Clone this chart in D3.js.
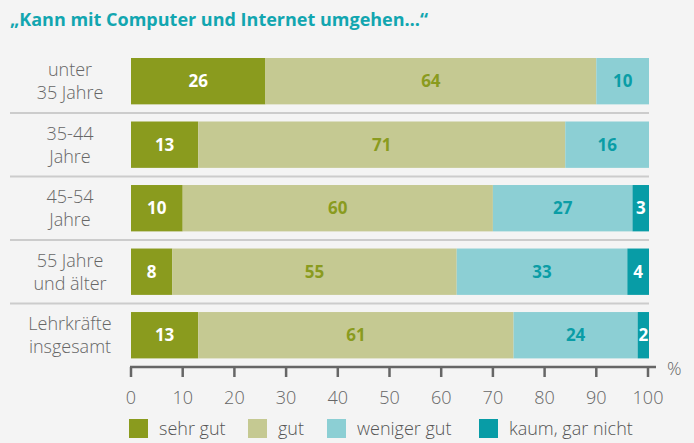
<!DOCTYPE html>
<html>
<head>
<meta charset="utf-8">
<script src="https://cdn.jsdelivr.net/npm/d3@7"></script>
<style>
  body { margin: 0; background: #f4f4f4; }
  svg { display: block; font-family: "Open Sans", sans-serif; }
</style>
</head>
<body>
<svg width="694" height="443"></svg>
<script>
var categories = [
    ["unter", "35 Jahre"],
    ["35-44", "Jahre"],
    ["45-54", "Jahre"],
    ["55 Jahre", "und älter"],
    ["Lehrkräfte", "insgesamt"]
];
var seriesNames = ["sehr gut", "gut", "weniger gut", "kaum, gar nicht"];
var sehrGut = [26, 13, 10, 8, 13];
var gut = [64, 71, 60, 55, 61];
var wenigerGut = [10, 16, 27, 33, 24];
var kaum = [0, 0, 3, 4, 2];
var ticks = [0, 10, 20, 30, 40, 50, 60, 70, 80, 90, 100];

var colors = ["#8a9b1e", "#c5c992", "#8ccfd4", "#089ca6"];
var labelColors = ["#ffffff", "#8a9b1e", "#0a9da6", "#ffffff"];

window.onload = main;

function main() {
    var svg = d3.select("svg");
    var series = [sehrGut, gut, wenigerGut, kaum];
    var keys = categories.map((c, i) => i);

    var x = d3.scaleLinear().domain([0, 100]).range([131, 648]);
    var y = d3.scaleBand()
        .domain(keys)
        .range([58, 358.4])
        .paddingInner(0.27)
        .paddingOuter(0);

    // title
    svg.append("text")
        .attr("x", 10)
        .attr("y", 26)
        .attr("fill", "#12a6b0")
        .style("font-size", "18px")
        .style("font-weight", "bold")
        .text("„Kann mit Computer und Internet umgehen…“");

    // separators
    var gap = y.step() - y.bandwidth();
    svg.selectAll(".sep")
        .data(keys.slice(0, 4))
        .enter()
        .append("line")
        .attr("x1", 10)
        .attr("x2", 649)
        .attr("y1", (d) => y(d) + y.bandwidth() + gap / 2)
        .attr("y2", (d) => y(d) + y.bandwidth() + gap / 2)
        .style("stroke", "#cccccc")
        .style("stroke-width", 2);

    // category labels
    var cat = svg.selectAll(".cat")
        .data(keys)
        .enter()
        .append("text")
        .attr("text-anchor", "middle")
        .attr("fill", "#666")
        .style("font-size", "18px")
        .style("font-weight", 300);
    cat.append("tspan")
        .attr("x", 70)
        .attr("y", (d) => y(d) + y.bandwidth() / 2 - 5)
        .text((d) => categories[d][0]);
    cat.append("tspan")
        .attr("x", 70)
        .attr("y", (d) => y(d) + y.bandwidth() / 2 + 18)
        .text((d) => categories[d][1]);

    // stacked segments
    var segs = [];
    keys.forEach((k) => {
        var acc = 0;
        series.forEach((s, j) => {
            if (s[k] > 0) segs.push({ row: k, s: j, x0: acc, x1: acc + s[k], v: s[k] });
            acc += s[k];
        });
    });

    svg.selectAll(".seg")
        .data(segs)
        .enter()
        .append("rect")
        .attr("x", (d) => x(d.x0))
        .attr("width", (d) => x(d.x1) - x(d.x0) + (d.x1 == 100 ? 1 : 0))
        .attr("y", (d) => y(d.row))
        .attr("height", y.bandwidth())
        .attr("fill", (d) => colors[d.s]);

    svg.selectAll(".val")
        .data(segs)
        .enter()
        .append("text")
        .attr("x", (d) => (x(d.x0) + x(d.x1)) / 2 + (d.x1 == 100 ? 0.5 : 0))
        .attr("y", (d) => y(d.row) + y.bandwidth() / 2 + 6)
        .attr("text-anchor", "middle")
        .attr("fill", (d) => labelColors[d.s])
        .style("font-size", "17px")
        .style("font-weight", "bold")
        .text((d) => d.v);

    // axis
    var axisY = 367;
    var axis = svg.append("g").attr("transform", "translate(0," + axisY + ")");
    axis.append("line")
        .attr("x1", x(0) - 1)
        .attr("x2", 656)
        .style("stroke", "#666")
        .style("stroke-width", 2.5);
    axis.selectAll(".tick")
        .data(ticks)
        .enter()
        .append("line")
        .attr("x1", (d) => x(d))
        .attr("x2", (d) => x(d))
        .attr("y1", 0)
        .attr("y2", 10)
        .style("stroke", "#666")
        .style("stroke-width", 2.5);
    axis.selectAll(".tl")
        .data(ticks)
        .enter()
        .append("text")
        .attr("x", (d) => x(d))
        .attr("y", 37)
        .attr("text-anchor", "middle")
        .attr("fill", "#666")
        .style("font-size", "18px")
        .style("font-weight", 300)
        .text((d) => d);
    axis.append("text")
        .attr("x", 667)
        .attr("y", 8)
        .attr("fill", "#666")
        .style("font-size", "18px")
        .style("font-weight", 300)
        .text("%");

    // legend
    var legendX = [129, 248, 327, 479];
    var leg = svg.selectAll(".leg")
        .data(seriesNames)
        .enter()
        .append("g")
        .attr("transform", (d, i) => "translate(" + legendX[i] + ",419)");
    leg.append("rect")
        .attr("width", 19)
        .attr("height", 19)
        .attr("fill", (d, i) => colors[i]);
    leg.append("text")
        .attr("x", 30)
        .attr("y", 16)
        .attr("fill", "#555")
        .style("font-size", "18px")
        .style("font-weight", 300)
        .text((d) => d);
}
</script>
</body>
</html>
